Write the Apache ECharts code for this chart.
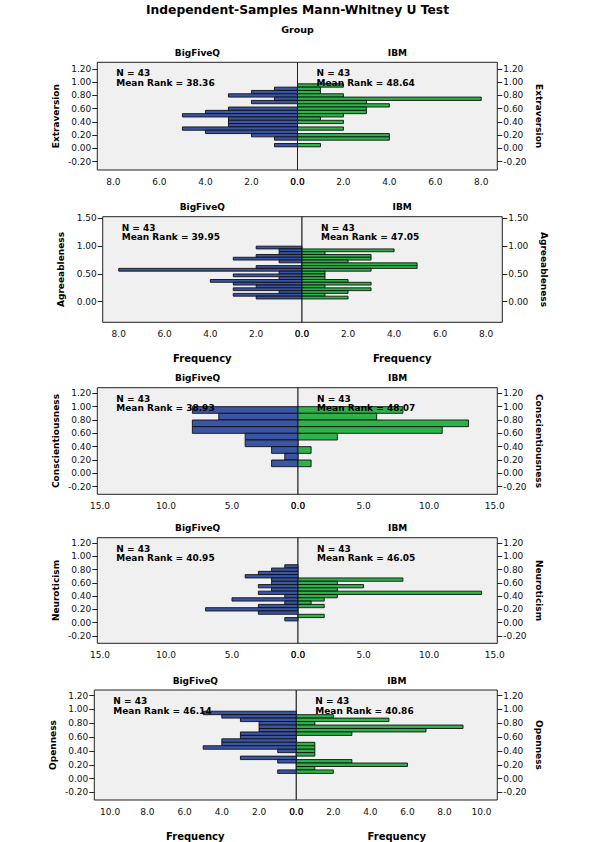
<!DOCTYPE html>
<html><head><meta charset="utf-8">
<script src="https://cdn.jsdelivr.net/npm/echarts@6/dist/echarts.min.js"></script>
<style>html,body{margin:0;padding:0;background:#fff}#c{width:595px;height:842px}</style>
</head><body><div id="c"></div>
<script>
// ---------------- DATA ----------------
const mainTitle = 'Independent-Samples Mann-Whitney U Test';
const factorName = 'Group';
const groups = ['BigFiveQ', 'IBM'];
const variables = ['Extraversion', 'Agreeableness', 'Conscientiousness', 'Neuroticism', 'Openness'];
const groupN = [43, 43];
const meanRanks = [[38.36, 48.64], [39.95, 47.05], [38.93, 48.07], [40.95, 46.05], [46.14, 40.86]];
const xAxisTitle = 'Frequency';

// Extraversion (bin width 0.05)
const extBinWidth = 0.05;
const extBins = [0.95,0.90,0.85,0.80,0.75,0.70,0.65,0.60,0.55,0.50,0.45,0.40,0.35,0.30,0.25,0.20,0.15,0.10,0.05];
const extBigFiveQ = [0,1,2,3,1,2,0,3,4,5,3,3,3,5,4,2,1,0,1];
const extIBM      = [2,1,1,2,8,3,4,3,3,2,1,2,0,2,0,4,4,0,1];

// Agreeableness (bin width 0.05)
const agrBinWidth = 0.05;
const agrBins = [0.975,0.925,0.875,0.825,0.775,0.725,0.675,0.625,0.575,0.525,0.475,0.425,0.375,0.325,0.275,0.225,0.175,0.125,0.075];
const agrBigFiveQ = [2,1,1,2,3,1,0,2,8,1,3,1,4,3,2,3,1,3,2];
const agrIBM      = [0,4,1,3,3,2,5,5,3,1,1,1,2,3,1,3,2,1,2];

// Conscientiousness (bin width 0.1)
const conBinWidth = 0.1;
const conBins = [0.95,0.85,0.75,0.65,0.55,0.45,0.35,0.25,0.15];
const conBigFiveQ = [8,6,8,8,4,4,2,1,2];
const conIBM      = [8,6,13,11,3,0,1,0,1];

// Neuroticism (bin width 0.05)
const neuBinWidth = 0.05;
const neuBins = [0.85,0.80,0.75,0.70,0.65,0.60,0.55,0.50,0.45,0.40,0.35,0.30,0.25,0.20,0.15,0.10,0.05];
const neuBigFiveQ = [1,2,3,4,2,2,3,2,3,1,5,1,3,7,3,0,1];
const neuIBM      = [0,0,0,0,8,3,5,3,14,3,2,1,2,0,0,2,0];

// Openness (bin width 0.05)
const opeBinWidth = 0.05;
const opeBins = [0.95,0.90,0.85,0.80,0.75,0.70,0.65,0.60,0.55,0.50,0.45,0.40,0.35,0.30,0.25,0.20,0.15,0.10];
const opeBigFiveQ = [5,4,3,2,2,2,3,3,4,4,5,1,0,3,1,0,0,1];
const opeIBM      = [0,2,5,1,9,7,3,0,0,1,1,1,1,0,3,6,1,2];

// tick labels
const yTicksA = [-0.2, 0, 0.2, 0.4, 0.6, 0.8, 1.0, 1.2];
const yTicksB = [0, 0.5, 1.0, 1.5];
const xTicks8 = [0, 2, 4, 6, 8];
const xTicks15 = [0, 5, 10, 15];
const xTicks10 = [0, 2, 4, 6, 8, 10];

// ---------------- LAYOUT / STYLE ----------------
const panels = [
  {name: variables[0], bins: extBins, w: extBinWidth, vals: [extBigFiveQ, extIBM], L: 97.3, C: 297.5, R: 497.3, T: 62.3, B: 170, ymin: -0.325, ymax: 1.30, yt: yTicksA, xmax: 8.7, xt: xTicks8, freq: false},
  {name: variables[1], bins: agrBins, w: agrBinWidth, vals: [agrBigFiveQ, agrIBM], L: 102.7, C: 302, R: 502.3, T: 216.7, B: 322.3, ymin: -0.37, ymax: 1.53, yt: yTicksB, xmax: 8.7, xt: xTicks8, freq: true},
  {name: variables[2], bins: conBins, w: conBinWidth, vals: [conBigFiveQ, conIBM], L: 97.3, C: 298, R: 497.3, T: 387.7, B: 494.3, ymin: -0.314, ymax: 1.284, yt: yTicksA, xmax: 15.2, xt: xTicks15, freq: false},
  {name: variables[3], bins: neuBins, w: neuBinWidth, vals: [neuBigFiveQ, neuIBM], L: 97.3, C: 298, R: 497.3, T: 537.7, B: 643.3, ymin: -0.314, ymax: 1.284, yt: yTicksA, xmax: 15.2, xt: xTicks15, freq: false},
  {name: variables[4], bins: opeBins, w: opeBinWidth, vals: [opeBigFiveQ, opeIBM], L: 94.3, C: 296.3, R: 497.3, T: 690, B: 800, ymin: -0.31, ymax: 1.282, yt: yTicksA, xmax: 10.85, xt: xTicks10, freq: true}
];
const colors = ['#3b55a5', '#2db34a'];
const FONT = '"DejaVu Sans", Verdana, sans-serif';

const grid = [], xAxis = [], yAxis = [], series = [], graphic = [];

function makeRender(color, w) {
  return function (params, api) {
    const c = api.value(0), n = api.value(1);
    if (!n) return null;
    const a = api.coord([0, c + w / 2]);
    const b = api.coord([n, c - w / 2]);
    return {
      type: 'rect',
      shape: {x: Math.min(a[0], b[0]), y: Math.min(a[1], b[1]), width: Math.abs(b[0] - a[0]), height: Math.abs(b[1] - a[1])},
      style: {fill: color, stroke: '#111', lineWidth: 0.9}
    };
  };
}

graphic.push({type: 'text', x: 297.5, y: 9.5, z: 100, style: {text: mainTitle, font: 'bold 12.3px ' + FONT, fill: '#000', textAlign: 'center', textVerticalAlign: 'middle', verticalAlign: 'middle'}});
graphic.push({type: 'text', x: 297.5, y: 29.5, z: 100, style: {text: factorName, font: 'bold 9.5px ' + FONT, fill: '#000', textAlign: 'center', textVerticalAlign: 'middle', verticalAlign: 'middle'}});

panels.forEach((p, pi) => {
  for (let s = 0; s < 2; s++) {
    const idx = pi * 2 + s;
    const left = s === 0 ? p.L : p.C;
    const right = s === 0 ? p.C : p.R;
    grid.push({left: left, top: p.T, width: right - left, height: p.B - p.T, show: true, backgroundColor: '#f0f0f0', borderColor: '#222', borderWidth: 1, containLabel: false});
    xAxis.push({
      type: 'value', gridIndex: idx, min: 0, max: p.xmax, inverse: s === 0, position: 'bottom',
      splitLine: {show: false}, axisLine: {show: false, onZero: false}, axisTick: {show: false},
      axisLabel: {customValues: p.xt, formatter: v => v.toFixed(1), fontSize: 9, fontFamily: FONT, color: '#111', margin: 7},
      name: p.freq ? xAxisTitle : '', nameLocation: 'middle', nameGap: 31,
      nameTextStyle: {fontSize: 10, fontWeight: 'bold', fontFamily: FONT, color: '#000'}
    });
    yAxis.push({
      type: 'value', gridIndex: idx, min: p.ymin, max: p.ymax, position: s === 0 ? 'left' : 'right',
      splitLine: {show: false}, axisLine: {show: false, onZero: false},
      axisTick: {show: true, length: 5, customValues: p.yt, lineStyle: {color: '#222'}},
      axisLabel: {customValues: p.yt, formatter: v => v.toFixed(2), fontSize: 9, fontFamily: FONT, color: '#111', margin: 6},
      name: p.name, nameLocation: 'middle', nameGap: 37, nameRotate: s === 0 ? 90 : -90,
      nameTextStyle: {fontSize: 9, fontWeight: 'bold', fontFamily: FONT, color: '#000'}
    });
    series.push({
      type: 'custom', xAxisIndex: idx, yAxisIndex: idx,
      renderItem: makeRender(colors[s], p.w),
      encode: {x: 1, y: 0},
      data: p.bins.map((c, i) => [c, p.vals[s][i]]),
      silent: true, z: 3
    });
    graphic.push({type: 'text', x: (left + right) / 2, y: p.T - 9.5, z: 100, style: {text: groups[s], font: 'bold 9px ' + FONT, fill: '#000', textAlign: 'center', textVerticalAlign: 'middle', verticalAlign: 'middle'}});
    graphic.push({type: 'text', x: left + 19, y: p.T + 11, z: 100, style: {text: 'N = ' + groupN[s], font: 'bold 9px ' + FONT, fill: '#000', textAlign: 'left', textVerticalAlign: 'middle', verticalAlign: 'middle'}});
    graphic.push({type: 'text', x: left + 19, y: p.T + 20.5, z: 100, style: {text: 'Mean Rank = ' + meanRanks[pi][s].toFixed(2), font: 'bold 9px ' + FONT, fill: '#000', textAlign: 'left', textVerticalAlign: 'middle', verticalAlign: 'middle'}});
  }
});

const chart = echarts.init(document.getElementById('c'), null, {renderer: 'svg', width: 595, height: 842});
chart.setOption({backgroundColor: '#fff', animation: false, grid, xAxis, yAxis, series, graphic});
</script></body></html>
